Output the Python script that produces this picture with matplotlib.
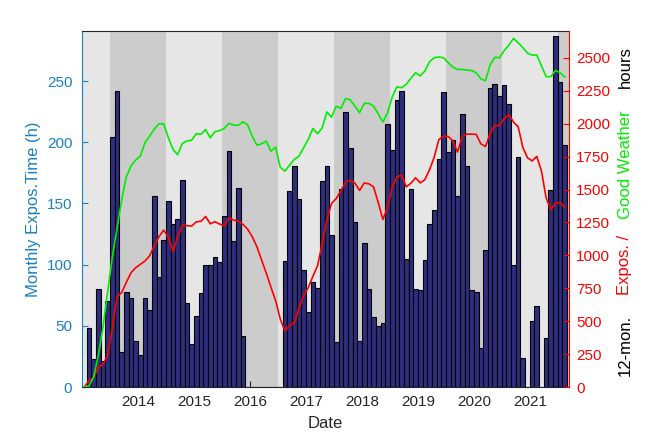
import numpy as np
import pandas as pd
import matplotlib
matplotlib.use('Agg')
import matplotlib.pyplot as plt

plt.rcParams['font.family'] = ['Liberation Sans', 'DejaVu Sans']

### monthly data, Jan 2013 .. Aug 2021
months = pd.period_range('2013-01', '2021-08', freq='M')

# monthly exposure time (h)
expos_month = [0, 48, 23, 80, 21, 70, 204, 242, 29, 78, 73, 38, 26,
               73, 63, 156, 90, 120, 152, 133, 137, 169, 69, 35, 58,
               77, 100, 100, 106, 102, 140, 193, 119, 163, 42, 0, 0,
               0, 0, 0, 0, 0, 0, 103, 160, 181, 154, 96, 61,
               86, 81, 168, 181, 124, 37, 162, 225, 195, 135, 38, 118,
               80, 57, 50, 52, 215, 194, 235, 242, 105, 162, 80, 79,
               104, 133, 145, 186, 241, 192, 202, 156, 223, 181, 79, 78,
               32, 112, 244, 248, 238, 247, 231, 100, 188, 24, 0, 54,
               66, 0, 40, 161, 287, 249, 198]

# 12-month exposure hours (red)
expos_12mon = [0, 48, 71, 151, 172, 242, 446, 688, 717, 795, 868, 906, 932,
               957, 997, 1073, 1142, 1192, 1140, 1031, 1139, 1230, 1226, 1223, 1255,
               1259, 1296, 1240, 1256, 1238, 1226, 1286, 1268, 1262, 1235, 1200, 1142,
               1065, 965, 865, 759, 657, 517, 427, 468, 486, 598, 694, 755,
               841, 922, 1090, 1271, 1395, 1432, 1491, 1556, 1570, 1551, 1493, 1550,
               1544, 1520, 1402, 1273, 1364, 1521, 1594, 1611, 1521, 1548, 1590, 1551,
               1575, 1651, 1746, 1880, 1906, 1904, 1871, 1785, 1903, 1922, 1921, 1920,
               1848, 1827, 1926, 1988, 1985, 2040, 2069, 2013, 1978, 1821, 1742, 1718,
               1752, 1640, 1436, 1349, 1398, 1400, 1367]

# 12-month good weather hours (green)
good_weather_12mon = [0, 8, 76, 241, 456, 723, 989, 1205, 1420, 1597, 1679, 1724, 1755,
                      1856, 1907, 1960, 2000, 2000, 1895, 1805, 1765, 1850, 1870, 1875, 1925,
                      1920, 1957, 1893, 1940, 1948, 1965, 2003, 1990, 1988, 2015, 1993, 1905,
                      1837, 1848, 1868, 1792, 1823, 1670, 1640, 1686, 1729, 1754, 1818, 1881,
                      1965, 1924, 1970, 2090, 2050, 2134, 2116, 2192, 2182, 2134, 2084, 2155,
                      2155, 2134, 2076, 2013, 2084, 2203, 2281, 2274, 2299, 2345, 2388, 2363,
                      2401, 2472, 2502, 2507, 2502, 2464, 2431, 2413, 2413, 2408, 2405, 2388,
                      2342, 2327, 2449, 2505, 2502, 2555, 2598, 2649, 2616, 2578, 2537, 2522,
                      2522, 2439, 2358, 2358, 2405, 2388, 2355]

year_ticks = [2014, 2015, 2016, 2017, 2018, 2019, 2020, 2021]
left_ticks = [0, 50, 100, 150, 200, 250]
right_ticks = [0, 250, 500, 750, 1000, 1250, 1500, 1750, 2000, 2250, 2500]
dark_years = [2014, 2016, 2018, 2020, 2022]   # dark band centred on these years

blue = '#1a80c4'
axcol = '#262626'

x = months.year + (months.month - 0.5) / 12.0

fig = plt.figure(figsize=(6.54, 4.36), dpi=100)
ax = fig.add_axes([82/654, 49/436, 487/654, 356/436])
ax.set_facecolor('#e6e6e6')
for yr in dark_years:
    ax.axvspan(yr - 0.5, yr + 0.5, color='#cccccc', lw=0, zorder=0)

ax.bar(x, expos_month, width=1/12, color='#2e2d80', edgecolor='black',
       linewidth=0.8, zorder=2)
ax.set_xlim(2013.0, 2021.7)
ax.set_ylim(0, 291)
ax.set_xticks(year_ticks)
ax.set_yticks(left_ticks)
ax.tick_params(axis='y', colors=blue, direction='in', labelsize=11, length=4, pad=7)
ax.tick_params(axis='x', colors=axcol, direction='in', labelsize=11, length=4, pad=6)
ax.set_xlabel('Date', fontsize=12, color=axcol, labelpad=5)
ax.set_ylabel('Monthly Expos.Time (h)', fontsize=12, color=blue, labelpad=4)

ax2 = ax.twinx()
ax2.plot(x, expos_12mon, color='#ff0000', lw=1.2)
ax2.plot(x, good_weather_12mon, color='#00ee00', lw=1.2)
ax2.set_ylim(0, 2705)
ax2.set_yticks(right_ticks)
ax2.tick_params(axis='y', colors='#ff0000', direction='in', labelsize=11, length=4, pad=5)

# spines
ax.spines['left'].set_color(blue)
ax.spines['right'].set_visible(False)
ax.spines['top'].set_color(axcol)
ax.spines['bottom'].set_color(axcol)
ax2.spines['left'].set_visible(False)
ax2.spines['top'].set_visible(False)
ax2.spines['bottom'].set_visible(False)
ax2.spines['right'].set_color('#ff0000')

# multi-coloured right label
xr = 625/654
fig.text(xr, (436-345)/436, '12-mon.', rotation=90, ha='center', va='center', fontsize=12, color='black')
fig.text(xr, (436-265)/436, 'Expos. /', rotation=90, ha='center', va='center', fontsize=12, color='#ff0000')
fig.text(xr, (436-165)/436, 'Good Weather', rotation=90, ha='center', va='center', fontsize=12, color='#00ee00')
fig.text(xr, (436-67)/436, 'hours', rotation=90, ha='center', va='center', fontsize=12, color='black')

fig.savefig('out.png', dpi=100)
